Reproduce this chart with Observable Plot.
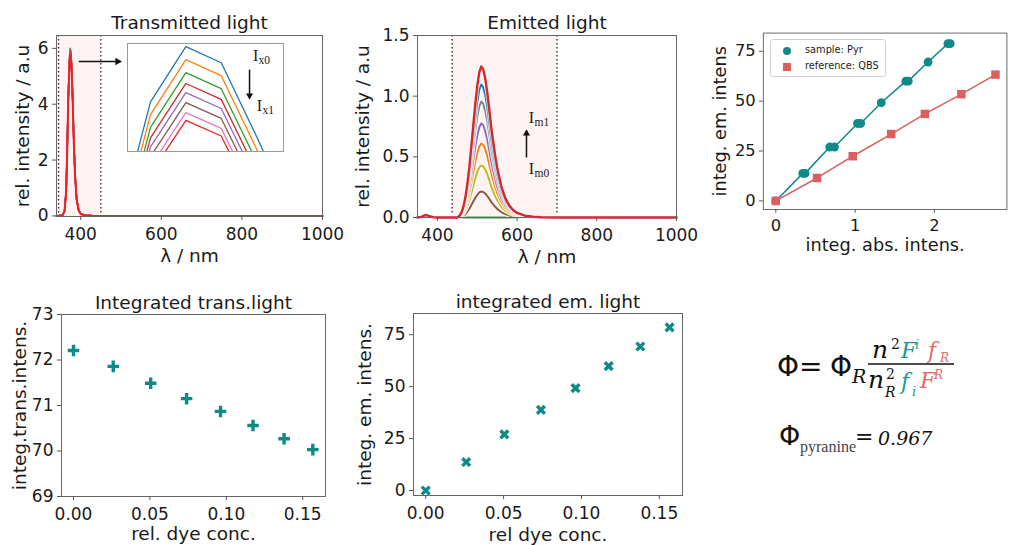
<!DOCTYPE html>
<html><head><meta charset="utf-8">
<script src="https://cdn.jsdelivr.net/npm/d3@7"></script>
<script src="https://cdn.jsdelivr.net/npm/@observablehq/plot@0.6"></script>
<style>
html,body{margin:0;padding:0;background:#fff;}
body{width:1016px;height:545px;overflow:hidden;position:relative;font-family:"DejaVu Sans";}
.panel{position:absolute;}
.legend{position:absolute;left:770px;top:39px;width:114px;height:36px;border:1px solid #d0d0d0;border-radius:3px;background:rgba(255,255,255,0.85);font-family:"DejaVu Sans";font-size:9.8px;color:#222;}
.legend div{position:absolute;left:34px;}
.legend svg{position:absolute;left:0;top:0;}
</style></head><body>
<script>
// ---------- data ----------
const transWl = [340,350,355,360,364,367,369,371,372,373,374,375,376,377,378,380,383,386,390,395,400,410,430,450,500,600,700,800,900,1000];
const transShape = [0,0.002,0.005,0.03,0.15,0.45,0.7,0.85,0.917,0.976,1,0.993,0.961,0.927,0.87,0.72,0.45,0.25,0.1,0.035,0.012,0.004,0.001,0,0,0,0,0,0,0];
const transPeaks = [6.0,5.966,5.932,5.904,5.88,5.854,5.828,5.808];
const transColors = ["#1f77b4","#ff7f0e","#2ca02c","#d62728","#9467bd","#8c564b","#e377c2","#ee2020"];
const transShade = [345,450];

const emWl = [350,360,366,370,374,380,390,400,440,450,455,460,465,470,475,480,485,490,495,500,505,510,515,520,525,530,535,540,545,550,560,570,580,590,600,620,640,660,700,800,1000];
const emShape = [0,0.004,0.012,0.016,0.015,0.008,0.002,0,0,0,0.01,0.03,0.07,0.13,0.22,0.33,0.47,0.61,0.75,0.87,0.96,1.0,0.98,0.92,0.83,0.72,0.6,0.5,0.41,0.33,0.21,0.13,0.08,0.05,0.03,0.012,0.005,0.002,0,0,0];
const emPeaks = [0,0.215,0.43,0.61,0.775,0.955,1.096,1.245];
const emColors = ["#2ca02c","#8c564b","#bcbd22","#ff7f0e","#9467bd","#7f7f7f","#1f77b4","#d62728"];
const emShade = [437,700];

const sampleAbs = [0,0.34,0.37,0.68,0.74,1.03,1.07,1.33,1.64,1.67,1.92,2.17,2.2];
const sampleEm  = [0,13.8,13.8,27,27,38.8,38.8,49.2,60,60,69.6,78.8,78.8];
const refAbs = [0,0.52,0.97,1.455,1.88,2.34,2.77];
const refEm  = [0,11.5,22.4,33.5,43.6,53.5,63.3];

const conc     = [0,0.026,0.0505,0.074,0.0962,0.1175,0.1378,0.1566];
const transInt = [72.21,71.86,71.49,71.15,70.87,70.56,70.27,70.03];
const emInt    = [0,13.7,27,38.8,49.3,59.9,69.3,78.5];

// annotations (data coordinates)
const transArrow = [{x1:395,x2:499,y:5.53}];
const insetArrow = [{x:375.8,y1:5.94,y2:5.865}];
const insetLabels = [{x:375.97,y:5.977,sub:"x0"},{x:376.08,y:5.847,sub:"x1"}];
const emArrow = [{x:623.5,y1:0.495,y2:0.717}];
const emLabels = [{x:636,y:0.824,sub:"m1"},{x:636,y:0.404,sub:"m0"}];

// ---------- helpers ----------
const FONT = "DejaVu Sans";
const TEAL = "#0f8a88";
const QRED = "#d9605e";
const SHADE = "#fdf3f3";
const style = {background:"transparent", fontFamily:FONT, fontSize:"17px", color:"#1a1a1a", overflow:"visible"};
const titleMark = (t, dy) => Plot.text([t], {text:d=>d, frameAnchor:"top", dy, textAnchor:"middle", lineAnchor:"middle", fontSize:18.5});
const xLabel = (t, dy) => Plot.text([t], {text:d=>d, frameAnchor:"bottom", dy, textAnchor:"middle", lineAnchor:"middle", fontSize:18.5});
const yLabel = (t, dx) => Plot.text([t], {text:d=>d, frameAnchor:"left", dx, rotate:-90, textAnchor:"middle", lineAnchor:"middle", fontSize:18.5});
const axes = (xt, xf, yt, yf, xpad=7) => [
  Plot.axisX({ticks:xt, tickFormat:xf, tickSize:4, tickPadding:xpad, label:null, fontSize:17, stroke:"#555"}),
  Plot.axisY({ticks:yt, tickFormat:yf, tickSize:4, tickPadding:4, label:null, fontSize:17, stroke:"#555"})
];
const frame = () => Plot.frame({stroke:"#666", strokeWidth:1});
function place(el, left, top){
  const d = document.createElement("div");
  d.className = "panel"; d.style.left = left+"px"; d.style.top = top+"px";
  d.appendChild(el); document.body.appendChild(d);
}
const intFmt = d3.format("d");

// ---------- rows ----------
const transRows = transPeaks.flatMap((p,s) => transWl.map((wl,j) => ({wl, v: transShape[j]*p, s})));
const emRows = emPeaks.flatMap((p,s) => emWl.map((wl,j) => ({wl, v: emShape[j]*p, s})));

// ---------- Panel A: transmitted ----------
const yA = [-0.02, 6.46];
const panelA = Plot.plot({
  width:340, height:275, marginLeft:56, marginRight:18, marginTop:35, marginBottom:59,
  x:{domain:[340,1000]}, y:{domain:yA}, style,
  marks:[
    Plot.rect([transShade], {x1:d=>d[0], x2:d=>d[1], y1:yA[0], y2:yA[1], fill:SHADE}),
    Plot.ruleX(transShade, {stroke:"#222", strokeWidth:1.3, strokeDasharray:"1.5,2.5"}),
    ...transPeaks.map((p,s) => Plot.line(transRows.filter(r=>r.s===s), {x:"wl", y:"v", stroke:transColors[s], strokeWidth: s===7?2:1.5})),
    Plot.link(transArrow, {x1:"x1", x2:"x2", y1:"y", y2:"y", stroke:"#111", strokeWidth:1.5}),
    Plot.dot(transArrow, {x:"x2", y:"y", symbol:"triangle2", rotate:90, r:3.6, fill:"#111", dx:-3}),
    frame(),
    ...axes([400,600,800,1000], intFmt, [0,2,4,6], intFmt),
    titleMark("Transmitted light", -12.5),
    xLabel("λ / nm", 40),
    yLabel("rel. intensity / a.u", -33)
  ]
});
place(panelA, 0, 0);

// inset
const inset = Plot.plot({
  width:156, height:108, margin:0,
  x:{domain:[372.35,376.76], axis:null}, y:{domain:[5.727,6.008], axis:null},
  style:{...style, background:"white"},
  marks:[
    ...transPeaks.map((p,s) => Plot.line(transRows.filter(r=>r.s===s), {x:"wl", y:"v", stroke:transColors[s], strokeWidth:1.3, clip:true})),
    Plot.frame({stroke:"#9a9a9a"}),
    Plot.link(insetArrow, {x1:"x", x2:"x", y1:"y1", y2:"y2", stroke:"#111", strokeWidth:1.5}),
    Plot.dot(insetArrow, {x:"x", y:"y2", symbol:"triangle2", rotate:180, r:3.4, fill:"#111", dy:-3}),
    Plot.text(insetLabels, {x:"x", y:"y", text:()=>"I", fontFamily:"Liberation Serif", fontSize:16, textAnchor:"middle", lineAnchor:"middle"}),
    Plot.text(insetLabels, {x:"x", y:"y", text:"sub", fontFamily:"Liberation Serif", fontSize:11.5, textAnchor:"start", lineAnchor:"middle", dx:3, dy:5})
  ]
});
place(inset, 127, 43);

// ---------- Panel B: emitted ----------
const yB = [0, 1.5];
const panelB = Plot.plot({
  width:350, height:275, marginLeft:77, marginRight:14, marginTop:35, marginBottom:58,
  x:{domain:[350,1000]}, y:{domain:yB}, style,
  marks:[
    Plot.rect([emShade], {x1:d=>d[0], x2:d=>d[1], y1:yB[0], y2:yB[1], fill:SHADE}),
    Plot.ruleX(emShade, {stroke:"#222", strokeWidth:1.3, strokeDasharray:"1.5,2.5"}),
    ...emPeaks.flatMap((p,s) => {
      const rows = emRows.filter(r=>r.s===s);
      return [
        Plot.line(rows, {x:"wl", y:"v", stroke:"white", strokeOpacity:0.75, strokeWidth:4.2}),
        Plot.line(rows, {x:"wl", y:"v", stroke:emColors[s], strokeWidth: s===7?2.4:2})
      ];
    }),
    Plot.link(emArrow, {x1:"x", x2:"x", y1:"y1", y2:"y2", stroke:"#111", strokeWidth:1.5}),
    Plot.dot(emArrow, {x:"x", y:"y2", symbol:"triangle2", r:3.4, fill:"#111", dy:3}),
    Plot.text(emLabels, {x:"x", y:"y", text:()=>"I", fontFamily:"Liberation Serif", fontSize:16, textAnchor:"middle", lineAnchor:"middle"}),
    Plot.text(emLabels, {x:"x", y:"y", text:"sub", fontFamily:"Liberation Serif", fontSize:11.5, textAnchor:"start", lineAnchor:"middle", dx:3, dy:5}),
    frame(),
    ...axes([400,600,800,1000], intFmt, [0,0.5,1,1.5], d3.format(".1f")),
    titleMark("Emitted light", -12.5),
    xLabel("λ / nm", 40),
    yLabel("rel. intensity / a.u", -54)
  ]
});
place(panelB, 340, 0);

// ---------- Panel C: integrated em vs abs ----------
const sampleRows = sampleAbs.map((x,i)=>({x, y:sampleEm[i]}));
const refRows = refAbs.map((x,i)=>({x, y:refEm[i]}));
const panelC = Plot.plot({
  width:340, height:275, marginLeft:76, marginRight:10, marginTop:34, marginBottom:57,
  x:{domain:[-0.157,2.914]}, y:{domain:[-4.3,84.1]}, style,
  marks:[
    Plot.line(sampleRows, {x:"x", y:"y", stroke:TEAL, strokeWidth:1.6}),
    Plot.dot(sampleRows, {x:"x", y:"y", fill:TEAL, r:4.6}),
    Plot.line(refRows, {x:"x", y:"y", stroke:QRED, strokeWidth:1.6}),
    Plot.dot(refRows, {x:"x", y:"y", fill:QRED, symbol:"square", r:5}),
    frame(),
    ...axes([0,1,2], intFmt, [0,25,50,75], intFmt, 6),
    xLabel("integ. abs. intens.", 37),
    yLabel("integ. em. intens", -45)
  ]
});
place(panelC, 690, 0);

// ---------- Panel D: integrated transmitted ----------
const transIntRows = conc.map((c,i)=>({c, v:transInt[i]}));
const panelD = Plot.plot({
  width:340, height:275, marginLeft:61, marginRight:15, marginTop:44, marginBottom:49,
  x:{domain:[-0.00785,0.1649]}, y:{domain:[69,73]}, style,
  marks:[
    Plot.dot(transIntRows, {x:"c", y:"v", symbol:"plus", stroke:TEAL, strokeWidth:3.4, r:3.8}),
    frame(),
    ...axes([0,0.05,0.1,0.15], d3.format(".2f"), [69,70,71,72,73], intFmt),
    titleMark("Integrated trans.light", -11.5),
    xLabel("rel. dye conc.", 38),
    yLabel("integ.trans.intens.", -41)
  ]
});
place(panelD, 0, 270);

// ---------- Panel E: integrated emitted ----------
const emIntRows = conc.map((c,i)=>({c, v:emInt[i]}));
const panelE = Plot.plot({
  width:350, height:275, marginLeft:73, marginRight:8, marginTop:43, marginBottom:50,
  x:{domain:[-0.00785,0.1649]}, y:{domain:[-2.4,85.2]}, style,
  marks:[
    Plot.dot(emIntRows, {x:"c", y:"v", symbol:"times", stroke:TEAL, strokeWidth:3.4, r:3.6}),
    frame(),
    ...axes([0,0.05,0.1,0.15], d3.format(".2f"), [0,25,50,75], intFmt),
    titleMark("integrated em. light", -11.5),
    xLabel("rel dye conc.", 40),
    yLabel("integ. em. intens.", -48)
  ]
});
place(panelE, 340, 270);
</script>

<div class="legend">
  <svg width="30" height="36"><circle cx="16" cy="11" r="4" fill="#0f8a88"/><rect x="12" y="23" width="8" height="8" fill="#d9605e"/></svg>
  <div style="top:4px">sample: Pyr</div>
  <div style="top:20px">reference: QBS</div>
</div>

<svg width="1016" height="545" style="position:absolute;left:0;top:0;pointer-events:none">
  <g fill="#111">
    <text x="777" y="376" font-family="DejaVu Sans" font-size="28">Φ=</text>
    <text x="830" y="376" font-family="DejaVu Sans" font-size="28">Φ</text>
    <text x="852" y="383" font-family="DejaVu Serif" font-style="italic" font-size="19">R</text>
    <text x="872" y="358" font-family="DejaVu Serif" font-style="italic" font-size="25">n</text>
    <text x="891" y="349" font-family="DejaVu Serif" font-size="14">2</text>
    <text x="901" y="358" font-family="DejaVu Serif" font-style="italic" font-size="22" fill="#1b9a95">F</text>
    <text x="915" y="349" font-family="DejaVu Serif" font-style="italic" font-size="13" fill="#1b9a95">i</text>
    <text x="928" y="358" font-family="DejaVu Serif" font-style="italic" font-size="22" fill="#e06a6a">f</text>
    <text x="940" y="362" font-family="DejaVu Serif" font-style="italic" font-size="12" fill="#e06a6a">R</text>
    <line x1="868" x2="954" y1="364" y2="364" stroke="#111" stroke-width="1.6"/>
    <text x="868" y="388" font-family="DejaVu Serif" font-style="italic" font-size="25">n</text>
    <text x="886" y="379" font-family="DejaVu Serif" font-size="14">2</text>
    <text x="885" y="397" font-family="DejaVu Serif" font-style="italic" font-size="14">R</text>
    <text x="901" y="389" font-family="DejaVu Serif" font-style="italic" font-size="22" fill="#1b9a95">f</text>
    <text x="912" y="396" font-family="DejaVu Serif" font-style="italic" font-size="13" fill="#1b9a95">i</text>
    <text x="920" y="388" font-family="DejaVu Serif" font-style="italic" font-size="22" fill="#e06a6a">F</text>
    <text x="934" y="379" font-family="DejaVu Serif" font-style="italic" font-size="12" fill="#e06a6a">R</text>
    <text x="779" y="445" font-family="DejaVu Sans" font-size="27">Φ</text>
    <text x="800" y="452" font-family="Liberation Serif" font-size="16" fill="#444">pyranine</text>
    <text x="855" y="444" font-family="DejaVu Sans" font-size="22">=</text>
    <text x="878" y="445" font-family="DejaVu Serif" font-style="italic" font-size="19">0.967</text>
  </g>
</svg>
</body></html>
